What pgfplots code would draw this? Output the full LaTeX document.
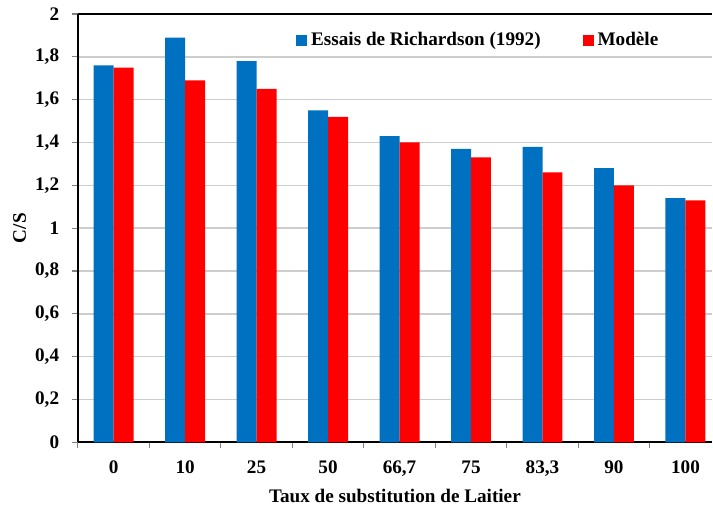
\documentclass[border=0pt]{standalone}
\usepackage{pgfplots}
\pgfplotsset{compat=1.18}
\usepackage{fontspec}
\setmainfont{Liberation Serif}
\definecolor{cblue}{RGB}{0,112,192}
\definecolor{cred}{RGB}{255,0,0}
\definecolor{cgrid}{RGB}{205,205,205}
\begin{document}
\fontsize{9.6}{11}\selectfont\bfseries
\begin{tikzpicture}
\begin{axis}[
  width=317.5pt, height=214.5pt, scale only axis,
  /pgf/number format/assume math mode=true,
  ybar=0pt, bar width=10pt,
  xmin=-0.5, xmax=8.37, ymin=0, ymax=2,
  axis x line=box, axis y line=left,
  axis line style={black, line width=1.1pt, -},
  xtick={0,...,8},
  xticklabels={0,10,25,50,{66,7},75,{83,3},90,100},
  xtick pos=lower,
  major x tick style={draw=none},
  minor xtick={-0.5,0.5,...,7.5},
  minor x tick style={gray, line width=0.6pt},
  minor tick length=3pt,
  ytick={0,0.2,0.4,0.6,0.8,1,1.2,1.4,1.6,1.8,2},
  yticklabels={0,{0,2},{0,4},{0,6},{0,8},1,{1,2},{1,4},{1,6},{1,8},2},
  ytick pos=left,
  tick align=outside,
  major tick length=3pt,
  y tick style={gray, line width=0.6pt},
  ymajorgrids, grid style={cgrid, line width=0.8pt},
  tick label style={font=\fontsize{9.6}{11}\selectfont\bfseries},
  xticklabel style={yshift=-3pt},
  yticklabel style={xshift=-3pt},
  label style={font=\fontsize{9.6}{11}\selectfont\bfseries},
  xlabel={Taux de substitution de Laitier},
  ylabel={C/S},
  xlabel style={yshift=0.5pt},
  ylabel style={yshift=-2pt},
  legend columns=2,
  legend style={draw=none, fill=none, at={(0.633,0.939)}, anchor=center,
    font=\fontsize{9.6}{11}\selectfont\bfseries,
    /tikz/every even column/.append style={column sep=19pt}},
  legend image code/.code={\fill[#1] (0pt,-2.75pt) rectangle (5.5pt,2.75pt);},
  clip=false,
]
\addplot[fill=cblue, draw=none] coordinates {(0,1.76) (1,1.89) (2,1.78) (3,1.55) (4,1.43) (5,1.37) (6,1.38) (7,1.28) (8,1.14)};
\addlegendentry{Essais de Richardson (1992)}
\addplot[fill=cred, draw=none] coordinates {(0,1.75) (1,1.69) (2,1.65) (3,1.52) (4,1.40) (5,1.33) (6,1.26) (7,1.20) (8,1.13)};
\addlegendentry{Modèle}
\coordinate (sw) at (rel axis cs:0,0);
\coordinate (ne) at (rel axis cs:1,1);
\end{axis}
\path ([shift={(-39pt,-31.5pt)}]sw) rectangle ([shift={(0pt,7pt)}]ne);
\end{tikzpicture}
\end{document}
